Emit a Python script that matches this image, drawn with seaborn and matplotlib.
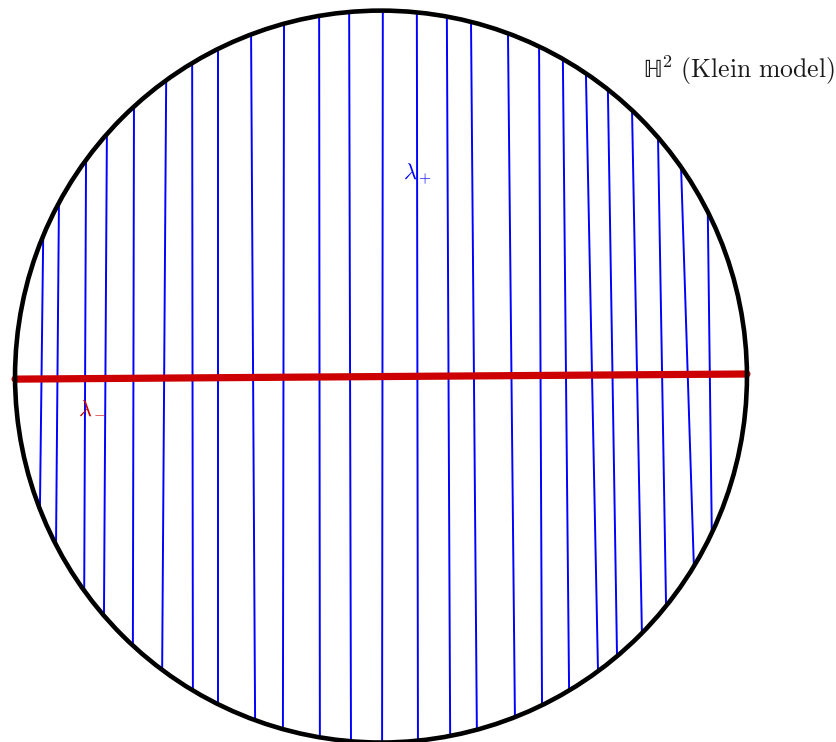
import numpy as np
import pandas as pd
import matplotlib
matplotlib.use('Agg')
import matplotlib.pyplot as plt
import seaborn as sns

# Chord endpoints in the Klein disk (x coordinate where each blue leaf hits the circle)
top_x = [-0.923, -0.880, -0.806, -0.749, -0.675, -0.587, -0.516, -0.445, -0.355,
         -0.265, -0.169, -0.087, 0.005, 0.098, 0.180, 0.246, 0.347, 0.432,
         0.497, 0.560, 0.620, 0.686, 0.757, 0.820, 0.893]
bottom_x = [-0.932, -0.888, -0.811, -0.757, -0.678, -0.598, -0.514, -0.445, -0.344,
            -0.268, -0.167, -0.082, 0.003, 0.101, 0.189, 0.262, 0.366, 0.440,
            0.514, 0.593, 0.645, 0.713, 0.779, 0.855, 0.904]

# Red geodesic lambda_- (heights where it meets the circle on the left and right)
red_left_y = -0.007
red_right_y = 0.007

labels = {
    'plus': r'$\lambda_+$',
    'minus': r'$\lambda_-$',
    'title': r'$\mathrm{\mathbb{H}}^2\ \mathrm{(Klein\ model)}$',
}

sns.set_theme(style='white')
plt.rcParams['mathtext.fontset'] = 'cm'

# build chord table: endpoints lie on the unit circle
rows = []
for i, (xt, xb) in enumerate(zip(top_x, bottom_x)):
    rows.append({'leaf': i, 'x': xt, 'y': np.sqrt(1 - xt ** 2)})
    rows.append({'leaf': i, 'x': xb, 'y': -np.sqrt(1 - xb ** 2)})
chords = pd.DataFrame(rows)

red = pd.DataFrame({
    'x': [-np.sqrt(1 - red_left_y ** 2), np.sqrt(1 - red_right_y ** 2)],
    'y': [red_left_y, red_right_y],
})

fig = plt.figure(figsize=(8.37, 7.42), dpi=100)
ax = fig.add_axes([0, 0, 1, 1])

sns.lineplot(data=chords, x='x', y='y', units='leaf', estimator=None, sort=False,
             color='#0000ff', linewidth=1.4, ax=ax)
sns.lineplot(data=red, x='x', y='y', estimator=None, sort=False,
             color='#cc0000', linewidth=5.2, solid_capstyle='round', ax=ax)

ax.add_patch(plt.Circle((0, 0), 1.0, fill=False, color='black', linewidth=3.3, zorder=3))

ax.text(0.101, 0.551, labels['plus'], color='#0000ff', fontsize=16, ha='center', va='center')
ax.text(-0.790, -0.083, labels['minus'], color='#cc0000', fontsize=16, ha='center', va='center')
ax.text(1.240, 0.837, labels['title'], color='#1a1a1a', fontsize=18.5, ha='right', va='center')

ax.set_xlim(-1.041, 1.246)
ax.set_ylim(-0.9986, 1.029)
ax.set_aspect('equal')
ax.axis('off')

fig.savefig('out.png', dpi=100)
